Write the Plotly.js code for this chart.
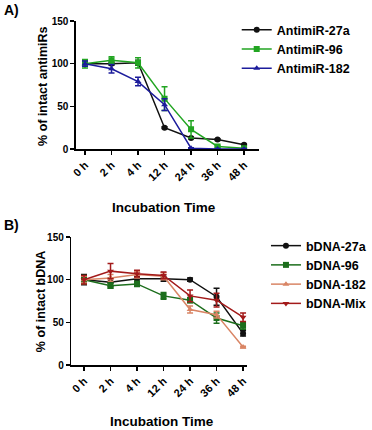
<!DOCTYPE html>
<html>
<head>
<meta charset="utf-8">
<script src="https://cdn.plot.ly/plotly-3.0.1.min.js"></script>
<style>html,body{margin:0;padding:0;background:#fff;}#chart{width:372px;height:430px;}</style>
</head>
<body>
<div id="chart"></div>
<script>
// Categories
const times = ["0 h", "2 h", "4 h", "12 h", "24 h", "36 h", "48 h"];

// Panel A: antimiRs
const antimiR27a = [100, 100, 101, 25, 13, 11, 5];
const antimiR27aErr = [3, 2, 3, 1, 1, 1, 1];
const antimiR96 = [100, 104, 101, 59, 23, 3, 1];
const antimiR96Err = [5, 4, 6, 14, 10, 1, 0.5];
const antimiR182 = [100, 94, 79, 52, 1, 0, 0];
const antimiR182Err = [3, 5, 5, 7, 0.5, 0.5, 0.5];

// Panel B: bDNA
const bDNA27a = [100, 97, 101, 101, 100, 80, 37];
const bDNA27aErr = [6, 5, 3, 3, 2, 10, 3];
const bDNA96 = [100, 93, 95, 81, 76, 55, 46];
const bDNA96Err = [5, 3, 3, 4, 3, 6, 4];
const bDNA182 = [100, 102, 106, 104, 65, 59, 21];
const bDNA182Err = [4, 4, 4, 4, 4, 4, 1];
const bDNAMix = [100, 110, 107, 105, 81, 76, 56];
const bDNAMixErr = [5, 9, 4, 4, 7, 8, 5];

const W = 372, H = 430;
const font = {family: "Liberation Sans, Arial, sans-serif", color: "#000"};

function tr(name, y, err, color, symbol, xa, ya, leg) {
  return {
    type: "scatter", mode: "lines+markers", name: name,
    x: times, y: y, xaxis: xa, yaxis: ya, legend: leg,
    line: {color: color, width: 1.5},
    marker: {color: color, symbol: symbol, size: 6},
    error_y: {type: "data", array: err, visible: true, color: color, thickness: 1.5, width: 3}
  };
}

const data = [
  tr("AntimiR-27a", antimiR27a, antimiR27aErr, "#111111", "circle", "x", "y", "legend"),
  tr("AntimiR-96", antimiR96, antimiR96Err, "#22a522", "square", "x", "y", "legend"),
  tr("AntimiR-182", antimiR182, antimiR182Err, "#1c1c9c", "triangle-up", "x", "y", "legend"),
  tr("bDNA-27a", bDNA27a, bDNA27aErr, "#111111", "circle", "x2", "y2", "legend2"),
  tr("bDNA-96", bDNA96, bDNA96Err, "#1c6e1c", "square", "x2", "y2", "legend2"),
  tr("bDNA-182", bDNA182, bDNA182Err, "#d98565", "triangle-up", "x2", "y2", "legend2"),
  tr("bDNA-Mix", bDNAMix, bDNAMixErr, "#a31a1a", "triangle-down", "x2", "y2", "legend2")
];

function xax(domain, range) {
  return {
    domain: domain, range: range, type: "category",
    showline: true, linecolor: "#000", linewidth: 1.5,
    ticks: "outside", ticklen: 4, tickwidth: 1.5, tickcolor: "#000",
    tickangle: -45, showgrid: false, zeroline: false,
    tickfont: Object.assign({size: 11, weight: "bold"}, font)
  };
}
function yax(domain) {
  return {
    domain: domain, range: [0, 150], tickvals: [0, 50, 100, 150],
    showline: true, linecolor: "#000", linewidth: 1.5,
    ticks: "outside", ticklen: 4, tickwidth: 1.5, tickcolor: "#000",
    showgrid: false, zeroline: false,
    tickfont: Object.assign({size: 10, weight: "bold"}, font)
  };
}

const layout = {
  width: W, height: H,
  margin: {l: 0, r: 0, t: 0, b: 0},
  paper_bgcolor: "#fff", plot_bgcolor: "#fff",
  showlegend: true,
  font: font,
  xaxis: Object.assign(xax([83 / W, 283 / W], [-0.345, 6.55]), {anchor: "y"}),
  yaxis: Object.assign(yax([1 - 149 / H, 1 - 21 / H]), {anchor: "x"}),
  xaxis2: Object.assign(xax([78 / W, 270 / W], [-0.48, 6.14]), {anchor: "y2"}),
  yaxis2: Object.assign(yax([1 - 365 / H, 1 - 237 / H]), {anchor: "x2"}),
  legend: {
    x: 259 / W, y: 1 - 15 / H, xanchor: "left", yanchor: "top",
    font: Object.assign({size: 12.5, weight: "bold"}, font),
    bgcolor: "rgba(0,0,0,0)", tracegroupgap: 0, itemwidth: 30
  },
  legend2: {
    x: 291 / W, y: 1 - 231 / H, xanchor: "left", yanchor: "top",
    font: Object.assign({size: 12.5, weight: "bold"}, font),
    bgcolor: "rgba(0,0,0,0)", tracegroupgap: 0, itemwidth: 30
  },
  annotations: [
    {text: "A)", x: 2 / W, y: 1 - 10 / H, xref: "paper", yref: "paper", xanchor: "left", yanchor: "middle", showarrow: false, font: Object.assign({size: 14, weight: "bold"}, font)},
    {text: "B)", x: 2 / W, y: 1 - 225 / H, xref: "paper", yref: "paper", xanchor: "left", yanchor: "middle", showarrow: false, font: Object.assign({size: 14, weight: "bold"}, font)},
    {text: "% of intact antimiRs", x: 47 / W, y: 1 - 86 / H, xref: "paper", yref: "paper", textangle: -90, showarrow: false, xanchor: "center", yanchor: "middle", font: Object.assign({size: 12.5, weight: "bold"}, font)},
    {text: "% of intact bDNA", x: 45 / W, y: 1 - 302 / H, xref: "paper", yref: "paper", textangle: -90, showarrow: false, xanchor: "center", yanchor: "middle", font: Object.assign({size: 12.5, weight: "bold"}, font)},
    {text: "Incubation Time", x: 179 / W, y: 1 - 207 / H, xref: "paper", yref: "paper", showarrow: false, xanchor: "center", yanchor: "middle", font: Object.assign({size: 13.5, weight: "bold"}, font)},
    {text: "Incubation Time", x: 177 / W, y: 1 - 421 / H, xref: "paper", yref: "paper", showarrow: false, xanchor: "center", yanchor: "middle", font: Object.assign({size: 13.5, weight: "bold"}, font)}
  ]
};

Plotly.newPlot("chart", data, layout, {displayModeBar: false, staticPlot: true});
</script>
</body>
</html>
